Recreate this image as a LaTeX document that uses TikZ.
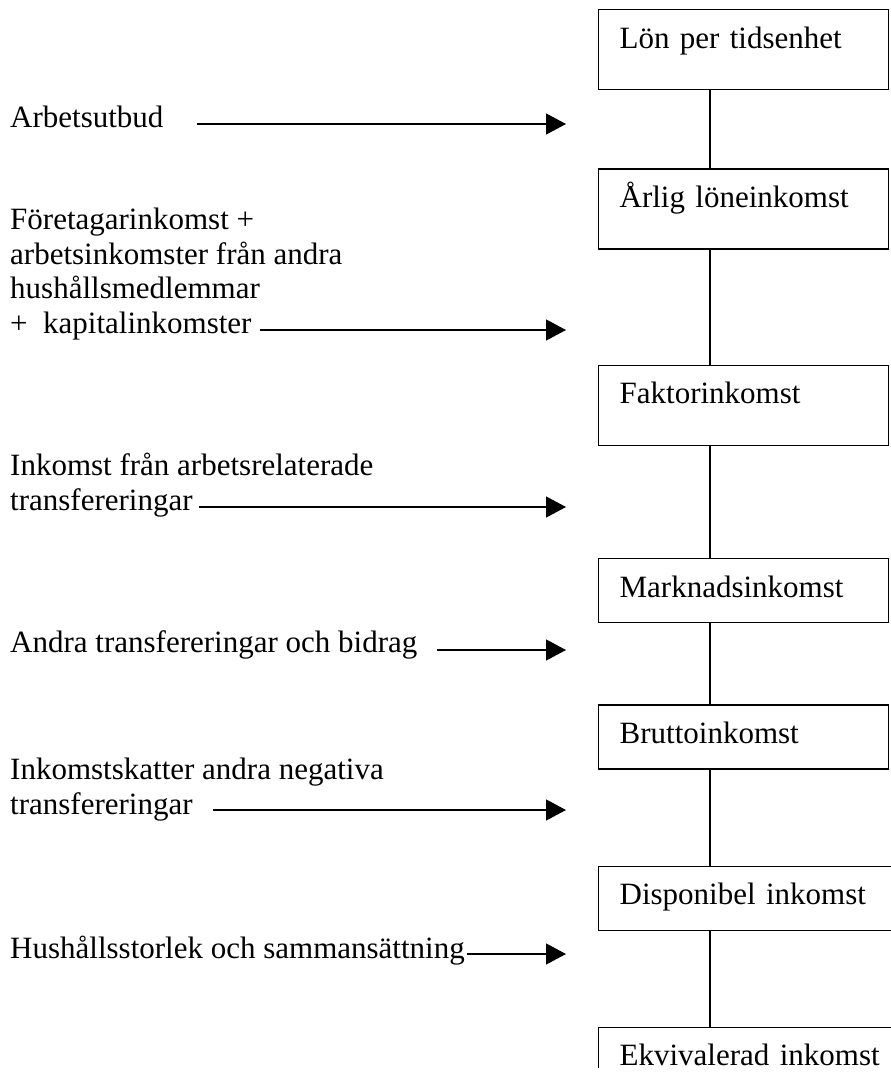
\documentclass[tikz,border=0pt]{standalone}
\usepackage{fontspec}
\setmainfont{Liberation Serif}
\usetikzlibrary{arrows.meta,positioning}

\begin{document}
\begin{tikzpicture}[x=1pt, y=-1pt,
  box/.style={draw, rectangle, line width=1.3pt, text width=248pt, align=left,
              inner xsep=21pt, inner ysep=0pt, text height=38.5pt, text depth=41.5pt,
              font=\fontsize{31}{34.5}\selectfont},
  low/.style={text depth=25.5pt},
  wide/.style={text width=320pt},
  lab/.style={anchor=base west, align=left, inner sep=0pt,
              font=\fontsize{31}{34.5}\selectfont},
  link/.style={line width=1.3pt},
  arr/.style={-{Triangle[length=20pt, width=21pt]}, line width=1.3pt}]
  \useasboundingbox (0,0) rectangle (891,1077);

  % income chain on the right
  \node[box, anchor=north west] (lon) at (598,9) {Lön per tidsenhet};
  \node[box, below=78pt of lon] (arlig) {Årlig löneinkomst};
  \node[box, below=115pt of arlig] (faktor) {Faktorinkomst};
  \node[box, low, below=112pt of faktor] (marknad) {Marknadsinkomst};
  \node[box, low, below=81pt of marknad] (brutto) {Bruttoinkomst};
  \node[box, low, wide, below=96pt of brutto.south west, anchor=north west] (dispo) {Disponibel inkomst};
  \begin{scope}
    \clip (0,0) rectangle (891,1067);
    \node[box, wide, text depth=90pt, below=96pt of dispo] (ekv) {Ekvivalerad inkomst};
  \end{scope}

  \coordinate (spine) at (710,0);
  \draw[link] (lon.south -| spine) -- (arlig.north -| spine);
  \draw[link] (arlig.south -| spine) -- (faktor.north -| spine);
  \draw[link] (faktor.south -| spine) -- (marknad.north -| spine);
  \draw[link] (marknad.south -| spine) -- (brutto.north -| spine);
  \draw[link] (brutto.south -| spine) -- (dispo.north -| spine);
  \draw[link] (dispo.south -| spine) -- (ekv.north -| spine);

  % factors on the left (base = last line)
  \node[lab] (utbud) at (10,127) {Arbetsutbud};
  \node[lab] (foretag) at (10,333) {Företagarinkomst +\\arbetsinkomster från andra\\hushållsmedlemmar\\+\ \ kapitalinkomster};
  \node[lab] (arbrel) at (10,510) {Inkomst från arbetsrelaterade\\transfereringar};
  \node[lab] (bidrag) at (10,652) {Andra transfereringar och bidrag};
  \node[lab] (skatt) at (10,814) {Inkomstskatter andra negativa\\transfereringar};
  \node[lab] (hushall) at (10,958) {Hushållsstorlek och sammansättning};

  \coordinate (tip) at (566,0);
  \coordinate (a1) at (197,124);
  \coordinate (a2) at (260,330);
  \coordinate (a3) at (199,507);
  \coordinate (a4) at (437,650);
  \coordinate (a5) at (213,810);
  \coordinate (a6) at (467,954);
  \draw[arr] (a1) -- (a1 -| tip);
  \draw[arr] (a2) -- (a2 -| tip);
  \draw[arr] (a3) -- (a3 -| tip);
  \draw[arr] (a4) -- (a4 -| tip);
  \draw[arr] (a5) -- (a5 -| tip);
  \draw[arr] (a6) -- (a6 -| tip);
\end{tikzpicture}
\end{document}
